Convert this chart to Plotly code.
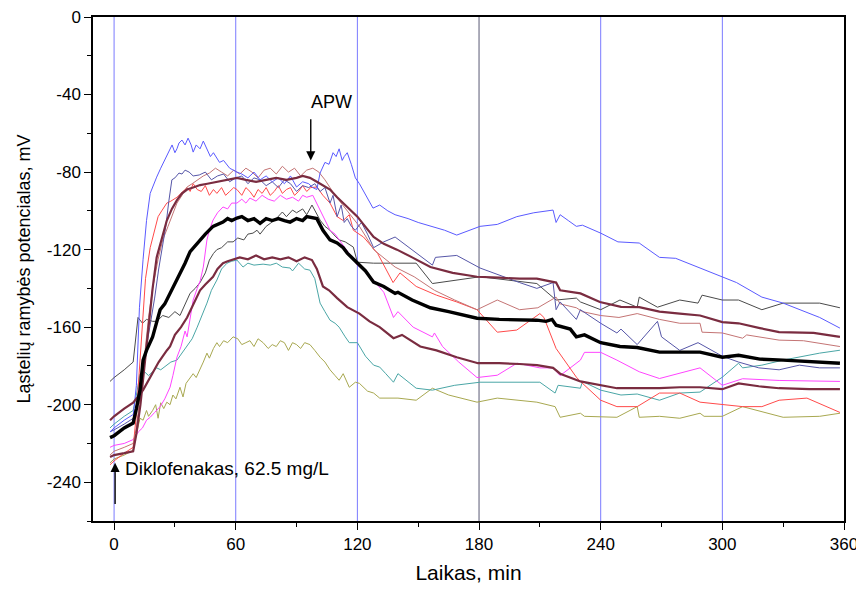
import plotly.graph_objects as go

# ---------------- data ----------------
t_blue = [-2, 0, 5, 9.5, 11, 12.5, 14.3, 16, 17.8, 19.5, 21, 23, 25, 26, 27.5, 28.6, 30, 31, 32, 33.5, 35, 36.5, 38, 39,
          40.5, 42.4, 44, 45.8, 47.5, 49, 52, 54, 57, 60.6, 63, 66, 69, 72, 75, 78, 81, 84, 87, 90, 93, 96, 98, 100,
          101.6, 104, 106, 108, 109.5, 111, 112.5, 113.5, 115, 117, 119, 121, 124, 127.7, 131, 135, 138.6, 145, 150,
          157, 163, 169, 175, 180.5, 189, 198.6, 207, 216.5, 218, 220, 224, 228, 231, 240, 248.5, 259, 269, 277, 289,
          300, 307, 319.5, 330, 348, 358]
v_blue = [-214, -212, -208, -205, -190, -150, -125, -105, -91, -86, -82.6, -78, -74, -72, -69, -66, -70, -68, -65, -63.5,
          -66, -62.5, -66, -69.7, -66, -68, -64, -68.6, -72, -70, -75, -74, -78, -80, -81, -83, -80, -84, -82, -85, -83,
          -86, -82, -87.7, -85, -86, -88, -89, -80.5, -75, -76, -70, -72, -68, -74, -72, -70, -76, -83, -86, -92, -98.6,
          -97, -100, -102, -104, -106, -108, -110, -112.5, -110, -108, -107, -103, -101, -99.6, -106, -102, -105, -108,
          -107.4, -111.5, -116, -116.6, -124, -124.5, -129.5, -134, -137, -144.5, -147.6, -155, -160.5]

t_navy = [-2, 0, 5, 9.5, 11, 12.5, 14, 16, 18, 20, 22, 24, 25.5, 27, 28.5, 30, 32, 33.5, 35, 37, 39, 42, 45, 48, 51, 54,
          57, 60, 63, 66, 69, 72, 75, 78, 81, 84, 87, 90, 93, 96, 99, 101.6, 104, 106.5, 108, 110, 112, 113.5, 115,
          117, 119, 122, 125, 128, 133, 138.6, 147, 157, 158.5, 169, 180.5, 192, 200, 208.5, 216.5, 218, 220, 228, 230,
          240, 248, 250, 258, 268, 270, 279, 288, 300, 308, 318, 328, 338, 348, 358]
v_navy = [-214, -213, -210, -207, -200, -192, -182, -170, -158, -145, -130, -118, -108, -95, -84, -83, -80.5, -81, -79,
          -80, -82, -81.5, -80, -84, -82, -81, -85, -83, -82, -86, -83, -84, -87, -85, -88, -84, -86, -90, -87, -88, -86,
          -90, -88, -96, -92, -103, -97, -106, -104, -108, -110, -106, -112, -119, -116, -113.5, -120, -128, -124, -123,
          -129.5, -134, -137, -140, -137, -151, -147, -156, -151, -158, -163, -161, -169, -157, -165, -172, -168,
          -175, -178, -181, -182, -179.6, -181, -181]

t_red = [-2, 0, 5, 9.4, 11, 12.5, 14, 15.5, 17.8, 19.5, 21.7, 23.5, 26, 28, 31, 33, 36, 37.5, 39, 41, 43, 45, 47, 49,
         50.7, 53, 55, 57, 59, 60.6, 63, 65, 67, 69, 71, 73, 75, 77, 79, 81, 83, 85, 87, 89, 91, 93, 95, 97, 100, 103,
         106.5, 110, 113, 116, 118, 123, 130, 137.6, 141, 149, 159, 169, 179, 189, 198.6, 210, 212, 218, 228, 230, 240,
         248, 258, 269, 279, 289, 300, 310, 319.5, 328, 341.7, 358]
v_red = [-231, -229, -225, -222, -205, -180, -155, -135, -119, -112, -103, -100, -96, -95, -93, -91, -88, -90, -86, -89,
         -90, -87, -92, -89, -91, -88, -92, -90, -88, -89, -92, -88, -90, -93, -89, -91, -88, -92, -90, -87, -91, -89,
         -88, -92, -90, -87, -90, -88, -87.7, -92, -96, -103, -105, -102, -110, -113.5, -122, -137, -132, -139, -143.5,
         -147, -151, -162.6, -161.5, -153, -155, -171, -185.8, -188, -197.7, -201, -201, -194, -194, -198.7, -200,
         -201, -201, -197.7, -196.6, -204]

t_rosy = [-2, 0, 5, 9.4, 11, 13, 15, 17, 19, 21.7, 24, 26.6, 29, 31, 33.5, 36, 38.5, 41, 44, 47, 50, 53, 56, 59, 62, 65,
          68, 71, 74, 77, 80, 83, 86, 89, 92, 95, 98, 101, 104, 106.5, 109, 112, 115, 118, 121, 124, 128, 138.6, 148,
          158, 168, 179, 189, 200, 209, 218, 220, 228, 231, 240, 249, 258, 269, 279, 289, 290, 300, 310, 312, 328, 340,
          358]
v_rosy = [-226, -224, -222, -220, -212, -195, -175, -155, -140, -125, -115, -108, -101, -96, -92, -87.7, -86, -84, -82,
          -80.5, -78, -80, -82, -79, -81, -78, -80, -83, -79, -78, -81, -77, -80, -78, -82, -79, -78, -80, -84, -88, -92,
          -96, -100, -104, -108, -113, -120, -129, -134, -141, -146, -151, -146, -151, -150, -144.5, -148, -150, -152,
          -154, -155, -153, -156, -158, -158, -162.6, -163, -165.7, -164, -166.7, -167, -170]

t_maroon1 = [-2, 0, 5, 9.4, 11, 13, 15, 17, 19, 21, 23.5, 26, 28.5, 31, 33.5, 36, 39, 42.4, 46, 50.7, 55, 60.6, 65, 70,
             75, 80, 85, 90, 93, 96.6, 100, 103, 106.5, 110, 113, 116, 120, 123, 126, 128, 133, 139.5, 147, 156, 167,
             179, 190, 200, 208.5, 218, 220, 230, 239.6, 250, 259, 269, 279, 289, 300, 308, 318.5, 328, 345, 358]
v_maroon1 = [-227, -226, -225, -224, -215, -200, -180, -160, -140, -124, -114, -105, -99, -94.5, -91, -89, -88, -86.7,
             -86, -85, -84, -83, -84, -85, -84, -83, -84, -83, -82, -83, -85, -87, -89, -93, -96, -99, -103, -107, -111,
             -113.5, -117, -120, -124, -129, -132, -134, -134.5, -135, -135, -137, -141, -142.6, -147, -149.5, -149.7,
             -152, -153, -154, -157.4, -158, -160.5, -162.6, -163, -165]

t_maroon2 = [-2, 0, 5, 9.4, 14.3, 17.8, 19, 22, 26, 27.6, 30, 33, 36, 39, 42.4, 45, 48.8, 51, 53.7, 56, 58.7, 62, 66,
             70, 74, 78, 82, 86, 90, 94, 97.6, 100, 103, 106, 110, 115, 121, 126, 131, 137.8, 142, 151, 159, 169,
             179.5, 190, 200, 208.6, 216.5, 220, 230, 240, 248, 258, 269, 279, 289, 300, 308, 318, 328, 343, 358]
v_maroon2 = [-208, -206, -202, -199, -192.5, -186, -184, -178, -172, -170, -164, -160, -155, -148, -141, -138, -134,
             -130, -127, -126, -125, -124, -125, -123, -125, -124, -125, -124, -126, -124, -125.4, -130, -139, -141,
             -145, -149.7, -153, -157, -160, -165.7, -164, -170, -172, -175.5, -178.6, -178.6, -179, -179.6, -181,
             -184, -188, -190, -191.5, -191.5, -191.5, -191, -191, -192, -189, -190.5, -191.5, -192, -192]

t_magenta = [-2, 0, 5, 9.4, 12, 14, 16, 17.8, 20, 22.7, 25, 27.6, 29, 31, 33, 35, 36, 37.5, 39, 41, 42.5, 44, 45,
             45.8, 47, 48.8, 51, 53.7, 56, 58, 60.6, 63, 65, 67, 70, 73, 76, 79, 82, 85, 88, 91, 93, 95, 98, 101.6,
             104, 106.5, 109, 111, 113, 116, 120, 124, 128, 133, 137.8, 140, 147.5, 157, 158, 162, 170, 179, 189,
             198.7, 210, 216.5, 220, 230, 232, 240, 248, 259, 269, 289, 300, 310, 328, 358]
v_magenta = [-222, -221, -220, -218, -214, -212, -208, -206.5, -204, -201, -197, -191, -185, -175.5, -170, -162, -165,
             -155, -146, -140, -136, -129, -122, -115, -110, -104.8, -101, -98, -99, -96, -96, -94, -96, -93.4, -95,
             -92, -94, -95, -92, -94, -93, -95, -92, -93, -92, -99.6, -104, -110, -112, -115, -118, -122, -128, -131,
             -136, -142, -155, -152, -160, -165, -163, -170, -178, -186, -184.8, -178.6, -181, -181, -185, -177, -173,
             -173, -177, -183, -186.5, -181, -190, -186.6, -187.5, -188]

t_grey = [-2, 0, 5, 9.4, 11.8, 14, 16, 19, 21, 24, 27, 30, 32.5, 35, 37.5, 40, 42.4, 45, 47, 49, 50.7, 53, 56, 58.7,
          61, 64, 66, 68.5, 70.5, 72, 75, 77, 80, 83, 85, 88, 90, 93, 95, 97.6, 99, 101.6, 104, 106.5, 109, 111, 114,
          118, 120, 128, 149, 157, 180.5, 208.5, 218, 228, 230, 240, 249.5, 258, 259, 268, 279, 288, 290, 300, 308,
          319.5, 330, 348, 358]
v_grey = [-188, -186, -182, -178, -155, -158, -156, -157, -157, -154, -155, -152, -154, -148, -142.5, -140, -137, -132,
          -125.4, -122, -120, -119, -116, -116, -114, -115, -112, -111.5, -110, -112, -108, -106.5, -104, -100.6, -103,
          -99.6, -101, -99, -102, -97, -100, -104.8, -108, -110, -113, -115, -116, -118.7, -126.5, -127, -127, -137.5,
          -134, -137.5, -146, -145, -147, -151, -146, -149.7, -144.5, -149.7, -146, -147.6, -143.5, -146, -146, -151,
          -147.6, -147.6, -150]

t_teal = [-2, 0, 5, 9.4, 11, 12.8, 15, 17, 19, 21, 23, 26, 28, 31, 33, 36, 38.5, 41, 43, 45.8, 48, 50.7, 53, 55.7, 58,
          60.6, 63.6, 66, 69, 73.5, 77, 80, 83, 86.8, 88, 91, 94, 96.6, 99, 101.6, 104, 106.5, 109, 111, 114, 116, 120,
          124, 128, 131, 134, 137.8, 140, 149, 157, 168, 180.5, 210, 217.5, 219, 230, 231, 240, 250, 258, 269, 279,
          289, 300, 308, 310, 319.5, 330, 348, 358]
v_teal = [-212, -210, -206, -203, -195, -184, -183, -185, -183, -181, -182, -179.6, -178, -177, -174, -170, -166, -160,
          -155, -147.6, -141, -135.7, -130, -127, -126, -125.4, -129, -127, -128, -127.5, -128, -127, -129, -129.5,
          -131, -127, -130, -130.6, -135, -147.6, -152, -156.4, -158, -160, -165, -168, -168, -175, -179.6, -180.6,
          -184, -188.4, -184, -191.5, -192.5, -190, -188.4, -188.4, -194, -190, -191.5, -188, -192.5, -195, -194.5,
          -197.7, -194, -193.5, -185.8, -178.6, -181, -179.6, -177, -173.4, -171.9]

t_olive = [-2, 0, 5, 9.4, 11, 12.8, 14.3, 16, 17, 19, 20.5, 21.7, 23, 24.5, 26, 27.6, 29, 30.5, 32.5, 34, 35.5, 37, 39,
           40.5, 42.4, 44, 45.8, 47, 49, 50.7, 52, 54, 56, 58.7, 61, 63, 65, 67, 69, 71, 73.5, 76, 78, 80, 82, 84, 86,
           88, 90, 92, 94, 96.6, 99, 101.6, 104, 106.5, 109, 111, 113, 116, 119, 121, 125, 128, 131, 140, 149, 155, 157,
           165, 179, 189, 208.5, 217.5, 220, 230, 232, 248, 258, 259, 269, 279, 289, 291, 300, 310, 319.5, 330, 348,
           358]
v_olive = [-230, -228, -226, -223.5, -215, -207, -208, -203, -206, -203, -200, -207, -199, -202, -198.7, -200, -195,
           -197, -191, -196, -189, -187, -184, -186, -182, -178, -173.4, -176, -171, -168, -170, -167, -168, -165, -166,
           -169, -168, -167, -170, -166, -168, -171, -169, -170, -167, -168, -172, -168, -169, -171, -168, -169, -172,
           -175.5, -178, -182, -185, -187.4, -184, -191, -188.4, -189, -193, -194, -196.6, -196.6, -197.7, -193,
           -191.5, -195, -198.7, -196.6, -198.7, -201, -206.5, -204.4, -206, -206.5, -201, -206.5, -206, -207, -204.4,
           -206, -206, -201, -203.5, -206.5, -206, -204.4]

t_mean = [-2, 0, 5, 9.4, 11, 12.8, 14.3, 16, 19, 21, 22.7, 25, 27.6, 30, 32.5, 35, 37.5, 40, 42.4, 45, 48.8, 51, 53.7,
          56, 58, 60.6, 63, 66, 69, 72, 75, 78, 81, 84, 86.8, 90, 93, 95, 97.6, 100, 103, 106.5, 110, 113, 115, 118,
          120, 124, 128, 133, 138.6, 140, 147, 156, 165, 179, 190, 208.5, 213, 216, 218, 225, 228, 232, 240, 249.5,
          258, 269, 289, 300, 308, 318.5, 330, 348, 358]
v_mean = [-217, -216, -212, -209.5, -202, -192.5, -177, -172, -165, -157, -151, -148, -142.6, -137, -132, -127, -121,
          -118, -115, -112, -108, -107, -105.8, -104, -105, -103.7, -103, -105, -104, -106.5, -104, -105, -104, -105,
          -105.8, -104, -105, -103, -103.7, -104, -110, -115, -116.6, -119, -121.8, -125, -127, -131, -136.8, -139,
          -142.6, -142, -146, -150, -152, -155.4, -156, -156.4, -157, -156, -159, -161, -165, -164, -168, -170,
          -170.5, -172.9, -172.9, -175.5, -174.5, -176.5, -177, -178, -178.6]

x_ticks = [0, 60, 120, 180, 240, 300, 360]
x_ticklabels = ["0", "60", "120", "180", "240", "300", "360"]
y_ticks = [0, -40, -80, -120, -160, -200, -240]
y_ticklabels = ["0", "-40", "-80", "-120", "-160", "-200", "-240"]
grid_blue = [0, 60, 120, 240, 300]
grid_dark = [180]

x_title = "Laikas, min"
y_title = "Ląstelių ramybės potencialas, mV"
apw_label = "APW"
apw_time = 97
dose_label = "Diklofenakas, 62.5 mg/L"
dose_time = 0.5

# ---------------- figure ----------------
series = [
    (t_olive, v_olive, "#a8a850", 1.0),
    (t_teal, v_teal, "#4aa6a6", 1.0),
    (t_grey, v_grey, "#4a4a4a", 1.0),
    (t_magenta, v_magenta, "#ff44ff", 1.0),
    (t_red, v_red, "#ff4a4a", 1.0),
    (t_rosy, v_rosy, "#c47474", 1.0),
    (t_navy, v_navy, "#5656a8", 1.0),
    (t_blue, v_blue, "#5a5aff", 1.0),
    (t_maroon2, v_maroon2, "#7a2c40", 2.2),
    (t_maroon1, v_maroon1, "#7a2c40", 2.2),
    (t_mean, v_mean, "#000000", 3.4),
]

fig = go.Figure()
for tx, vy, col, w in series:
    fig.add_trace(go.Scatter(x=tx, y=vy, mode="lines", line=dict(color=col, width=w),
                             showlegend=False, hoverinfo="skip"))

for gx in grid_blue:
    fig.add_vline(x=gx, line=dict(color="#7a7aff", width=1), layer="below")
for gx in grid_dark:
    fig.add_vline(x=gx, line=dict(color="#303050", width=0.8), layer="below")

# APW arrow + label
fig.add_annotation(x=apw_time, y=-74, ax=apw_time, ay=-52, xref="x", yref="y", axref="x", ayref="y",
                   text="", showarrow=True, arrowhead=2, arrowsize=1.3, arrowwidth=1.4, arrowcolor="black")
fig.add_annotation(x=apw_time + 10, y=-44, xref="x", yref="y", text=apw_label, showarrow=False,
                   font=dict(size=18, color="black"))
# dose arrow + label
fig.add_annotation(x=dose_time, y=-230, ax=dose_time, ay=-252, xref="x", yref="y", axref="x", ayref="y",
                   text="", showarrow=True, arrowhead=2, arrowsize=1.3, arrowwidth=1.4, arrowcolor="black")
fig.add_annotation(x=4.4, y=-233, xref="x", yref="y", text=dose_label, showarrow=False, xanchor="left",
                   font=dict(size=19, color="black"))

axis_common = dict(showline=True, linecolor="black", linewidth=1.5, mirror=True, ticks="outside",
                   tickcolor="black", tickwidth=1.2, ticklen=7, zeroline=False, showgrid=False,
                   automargin=False, ticklabeloverflow="allow", tickfont=dict(size=17, color="black"))

# page body has an 8px margin, so the figure is offset by 8px inside the 864x592 window
fig.update_layout(
    width=856, height=576,
    paper_bgcolor="white", plot_bgcolor="white",
    margin=dict(l=85, r=20, t=9, b=63),
    font=dict(family="Liberation Sans, Arial, sans-serif", color="black"),
    xaxis=dict(range=[-10.4, 360], tickvals=x_ticks, ticktext=x_ticklabels,
               title=dict(text=x_title, font=dict(size=21), standoff=20),
               minor=dict(tickvals=[30, 90, 150, 210, 270, 330], ticks="outside", ticklen=4, tickcolor="black"),
               **axis_common),
    yaxis=dict(range=[-260, 0], tickvals=y_ticks, ticktext=y_ticklabels,
               title=dict(text=y_title, font=dict(size=18), standoff=12),
               minor=dict(tickvals=[-20, -60, -100, -140, -180, -220, -260], ticks="outside", ticklen=4,
                          tickcolor="black"),
               **axis_common),
)

fig.write_html("out.html")
